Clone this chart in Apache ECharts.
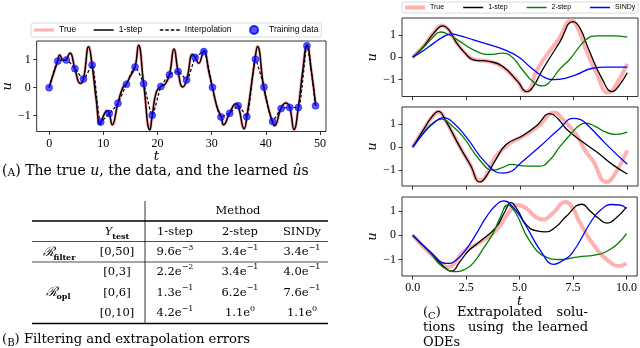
<!DOCTYPE html>
<html>
<head>
<meta charset="utf-8">
<script src="https://cdn.jsdelivr.net/npm/echarts@6/dist/echarts.min.js"></script>
<style>
  html, body { margin: 0; padding: 0; background: #fff; }
  #chart { width: 640px; height: 348px; }
</style>
</head>
<body>
<div id="chart"></div>
<script>
// (A) training samples
const trainT = [0, 1.59, 3.17, 4.76, 6.34, 7.93, 9.52, 11.1, 12.69, 14.27, 15.86, 17.44, 19.03, 20.62, 22.2, 23.79,
  25.37, 26.96, 28.55, 30.14, 31.72, 33.31, 34.89, 36.48, 38.07, 39.65, 41.24, 42.82, 44.41, 46.0, 47.58, 49.17];
const trainU = [0, 0.95, 0.99, 0.68, 0.31, 0.81, -1.23, -0.93, -0.56, 0.12, 0.74, 0.14, -0.99, 0.04, 0.46, 0.58,
  0.27, 1.08, 1.29, 0.01, -1.05, -0.92, -0.65, -1.04, 1.02, 0.02, -1.21, -0.75, -0.71, -0.71, 1.5, -0.65];
// (A) true u (1-step lies on top of it)
const trueT = [0, 0.8, 1.59, 1.95, 2.65, 3.17, 3.85, 4.76, 5.75, 6.34, 7.3, 7.93, 8.7, 9.4, 10.05, 10.7, 11.1, 11.65,
  12.69, 13.6, 14.27, 15.0, 15.86, 16.5, 17.44, 18.6, 19.03, 19.8, 20.62, 21.4, 22.2, 23.05, 23.8, 24.65, 25.37,
  26.5, 26.97, 27.6, 28.55, 29.5, 30.14, 31.0, 31.75, 32.2, 33.3, 34.5, 34.9, 36.0, 36.5, 38.0, 38.45, 39.6, 40.5,
  41.2, 41.6, 42.8, 43.7, 44.4, 45.2, 46.0, 46.8, 47.6, 48.4, 49.2];
const trueU = [0, 0.5, 0.95, 1.17, 0.97, 1.02, 1.24, 0.68, 0.15, 0.31, 1.46, 0.81, -0.45, -1.32, -1.0, -0.82, -0.93, -1.33,
  -0.56, 0.0, 0.14, 0.42, 0.74, 1.52, 0.14, -1.51, -0.99, -0.15, 0.04, 0.12, 0.46, 1.38, 0.58, 0.02, 0.27,
  1.2, 1.08, 0.87, 1.32, 0.55, 0.01, -0.7, -1.04, -1.33, -0.92, -0.58, -0.65, -1.47, -1.03, 1.02, 1.47, 0.02, -0.75,
  -1.21, -1.36, -0.74, -0.55, -0.71, -1.5, -0.7, 0.6, 1.53, 0.6, -0.64];
const oneStepU = trueU;
const ticksA = [0, 10, 20, 30, 40, 50];

// (C) extrapolation, three initial conditions
const c1True = [[0,0],[0.51,0.5],[0.98,1.1],[1.36,1.42],[1.7,1.2],[2.05,0.65],[2.44,0.18],[2.83,-0.1],[3.6,-0.2],[4.2,-0.45],[4.9,-1.1],[5.25,-1.55],[5.5,-1.4],[5.76,-0.63],[6.84,0.87],[7.38,1.65],[7.7,1.3],[8.07,0.35],[8.6,-0.8],[9.1,-1.6],[9.45,-1.3],[10,-0.3]];
const c1One = [[0,0],[0.51,0.48],[0.98,1.08],[1.4,1.41],[1.7,1.2],[2.05,0.63],[2.44,0.18],[2.83,-0.12],[3.6,-0.2],[4.2,-0.42],[4.9,-1.1],[5.32,-1.55],[5.6,-1.35],[6.06,-0.55],[6.84,0.65],[7.48,1.6],[7.8,1.3],[8.2,0.35],[8.84,-1.0],[9.3,-1.55],[9.6,-1.3],[10,-0.7]];
const c1Two = [[0,0],[0.51,0.45],[0.98,0.93],[1.3,1.13],[1.6,1.05],[2.05,0.8],[2.83,0.33],[3.6,0.12],[4.2,0.18],[4.52,0.1],[5.14,-0.6],[5.6,-1.1],[6.07,-1.29],[6.4,-1.1],[6.84,-0.55],[7.3,-0.12],[8.07,0.78],[8.6,0.96],[9.3,0.96],[10,0.9]];
const c1Sindy = [[0,0],[0.51,0.3],[0.98,0.63],[1.4,0.9],[1.82,1.05],[2.05,1.0],[2.83,0.78],[3.6,0.55],[4.2,0.36],[4.9,0.03],[5.45,-0.42],[6.07,-0.87],[6.6,-1.01],[7.1,-0.95],[7.6,-0.8],[8.38,-0.5],[9.0,-0.45],[10,-0.45]];

const c2True = [[0,0],[0.5,0.75],[0.9,1.3],[1.2,1.52],[1.5,1.2],[2.2,0],[2.7,-0.8],[3.1,-1.45],[3.35,-1.35],[3.8,-0.5],[4.37,0.05],[4.68,0.25],[5.3,0.55],[5.9,0.95],[6.6,1.5],[7.0,1.2],[7.6,0.57],[8.07,-0.2],[8.38,-0.57],[9.05,-1.52],[9.4,-1.2],[10,-0.15]];
const c2One = [[0,0],[0.5,0.75],[0.9,1.32],[1.2,1.55],[1.5,1.2],[2.2,0],[2.7,-0.8],[3.13,-1.52],[3.4,-1.3],[3.9,-0.5],[4.37,0.12],[5.14,0.5],[5.8,0.95],[6.4,1.45],[6.8,1.2],[7.2,0.75],[8.07,0.12],[8.7,-0.3],[9.3,-0.75],[10,-1.17]];
const c2Two = [[0,0],[0.5,0.62],[0.98,1.08],[1.36,1.21],[1.8,0.95],[2.36,0.43],[3.13,-0.57],[3.75,-1.0],[4.2,-0.88],[4.6,-0.75],[5.14,-0.82],[5.9,-0.83],[6.4,-0.55],[6.84,0.0],[7.4,0.6],[7.76,0.94],[8.07,1.04],[8.5,0.9],[9.0,0.65],[9.46,0.55],[10,0.65]];
const c2Sindy = [[0,0],[0.5,0.6],[0.98,1.05],[1.44,1.28],[1.9,1.05],[2.5,0.43],[3.44,-0.72],[4.2,-1.13],[4.6,-1.05],[5.0,-0.72],[5.9,0.0],[6.84,0.8],[7.5,1.25],[7.8,1.2],[8.1,1.0],[9.0,0.14],[10,-0.75]];

const c3True = [[0,0],[0.82,-0.75],[1.4,-1.2],[1.65,-1.32],[2.0,-1.1],[2.36,-0.68],[3.13,-0.3],[3.9,0.2],[4.5,0.95],[4.9,1.25],[5.3,1.12],[5.76,0.75],[6.1,0.65],[6.53,0.89],[7.15,1.37],[7.5,1.1],[7.76,0.62],[8.53,-0.48],[9.3,-1.16],[9.65,-1.27],[10,-1.16]];
const c3One = [[0,0],[0.82,-0.72],[1.4,-1.25],[1.82,-1.48],[2.2,-1.1],[2.6,-0.65],[3.13,-0.27],[3.9,0.34],[4.3,0.95],[4.6,1.35],[4.9,1.05],[5.3,0.45],[5.8,0.18],[6.22,0.14],[6.7,0.35],[7.15,0.75],[7.92,1.28],[8.3,1.0],[8.69,0.7],[9.1,0.5],[9.5,0.7],[10,1.16]];
const c3Two = [[0,0],[0.82,-0.72],[1.4,-1.3],[2.05,-1.5],[2.5,-1.38],[2.82,-1.16],[3.3,-0.55],[3.75,0.07],[4.1,0.75],[4.45,1.25],[4.8,0.95],[5.45,-0.2],[6.22,-0.89],[6.84,-1.0],[7.76,-0.89],[8.5,-0.82],[9.0,-0.7],[9.6,-0.34],[10,0.07]];
const c3Sindy = [[0,0],[0.82,-0.68],[1.59,-1.16],[2.0,-1.05],[2.52,-0.55],[3.0,0.1],[3.44,0.75],[3.9,1.25],[4.25,1.42],[4.6,1.25],[5.14,0.62],[6.06,-0.75],[6.6,-1.2],[7.0,-1.05],[7.45,-0.75],[8.38,0.62],[8.8,1.05],[9.3,1.27],[9.7,1.25],[10,1.1]];
const ticksC = [0, 2.5, 5, 7.5, 10];
const ticksU = [-1, 0, 1];

// (B) table
const tableMethods = ['1-step', '2-step', 'SINDy'];
const tableRanges = ['[0,50]', '[0,3]', '[0,6]', '[0,10]'];
const tableMantissa = [['9.6', '3.4', '3.4'], ['2.2', '3.4', '4.0'], ['1.3', '6.2', '7.6'], ['4.2', '1.1', '1.1']];
const tableExponent = [['−3', '−1', '−1'], ['−2', '−1', '−1'], ['−1', '−1', '−1'], ['−1', '0', '0']];

const serif = 'DejaVu Serif';
const tickFont = 'Liberation Serif';
const pink = '#ffb0b0';

const chart = echarts.init(document.getElementById('chart'));

function minus(v) {
  return v < 0 ? '−' + Math.abs(v) : String(v);
}

function xAxisOf(grid, min, max, ticks, showLabel, fmt, nameOpt) {
  return Object.assign({
    type: 'value', gridIndex: grid, min: min, max: max,
    splitLine: { show: false },
    axisLine: { show: false, onZero: false },
    axisTick: { show: true, length: 3.5, lineStyle: { color: '#000', width: 0.8 }, customValues: ticks },
    axisLabel: { show: showLabel, customValues: ticks, formatter: fmt, margin: 6,
      fontFamily: tickFont, fontSize: 12, color: '#000' }
  }, nameOpt || {});
}

function yAxisOf(grid, min, max, gap) {
  return {
    type: 'value', gridIndex: grid, min: min, max: max,
    name: 'u', nameLocation: 'middle', nameRotate: 90, nameGap: gap,
    nameTextStyle: { fontFamily: serif, fontStyle: 'italic', fontSize: 13, color: '#000' },
    splitLine: { show: false },
    axisLine: { show: false, onZero: false },
    axisTick: { show: true, length: 3.5, lineStyle: { color: '#000', width: 0.8 }, customValues: ticksU },
    axisLabel: { customValues: ticksU, formatter: minus, margin: 6,
      fontFamily: tickFont, fontSize: 12, color: '#000' }
  };
}

function curve(name, data, idx, color, width, extra) {
  return Object.assign({
    name: name, type: 'line', xAxisIndex: idx, yAxisIndex: idx,
    data: data, symbol: 'none', smooth: 0.5,
    lineStyle: { color: color, width: width }, itemStyle: { color: color },
    animation: false
  }, extra || {});
}

const pairsA = trueT.map((t, i) => [t, trueU[i]]);
const oneStepA = trueT.map((t, i) => [t, oneStepU[i]]);
const trainA = trainT.map((t, i) => [t, trainU[i]]);

const cPanels = [
  [c1True, c1One, c1Two, c1Sindy],
  [c2True, c2One, c2Two, c2Sindy],
  [c3True, c3One, c3Two, c3Sindy]
];

const series = [
  curve('True', pairsA, 0, pink, 3),
  curve('1-step', oneStepA, 0, '#000', 1.5),
  curve('Interpolation', trainA, 0, '#000', 1.2, { smooth: 0.2, lineStyle: { color: '#000', width: 1.2, type: [3, 2] } }),
  {
    name: 'Training data', type: 'scatter', xAxisIndex: 0, yAxisIndex: 0, data: trainA,
    symbolSize: 7, itemStyle: { color: 'rgba(10,10,255,0.85)', borderColor: '#0000ff', borderWidth: 0.6 },
    animation: false, z: 5
  }
];
cPanels.forEach((p, k) => {
  series.push(curve('True', p[0], k + 1, pink, 4));
  series.push(curve('1-step', p[1], k + 1, '#000', 1.3));
  series.push(curve('2-step', p[2], k + 1, '#008000', 1.3));
  series.push(curve('SINDy', p[3], k + 1, '#0000ff', 1.3));
});

// table + captions as text
const tRich = {
  m: { fontFamily: serif, fontSize: 11.5, lineHeight: 17, fill: '#000' },
  s: { fontFamily: serif, fontSize: 8, lineHeight: 9, verticalAlign: 'top', fill: '#000' },
  i: { fontFamily: serif, fontSize: 11.5, fontStyle: 'italic', lineHeight: 17, fill: '#000' },
  r: { fontFamily: serif, fontSize: 13, fontStyle: 'italic', lineHeight: 17, fill: '#000' },
  b: { fontFamily: serif, fontSize: 8, fontWeight: 'bold', lineHeight: 9, verticalAlign: 'bottom', fill: '#000' }
};
function txt(x, y, text, rich, align) {
  return {
    type: 'text', x: x, y: y, silent: true,
    style: { text: text, rich: rich, align: align || 'center', textAlign: align || 'center',
      verticalAlign: 'middle', textVerticalAlign: 'middle', fill: '#000' }
  };
}
function rule(x1, y1, x2, y2, w) {
  return { type: 'line', silent: true, shape: { x1: x1, y1: y1, x2: x2, y2: y2 }, style: { stroke: '#000', lineWidth: w } };
}

const colX = [175, 240, 302];
const rowY = [252.5, 271.7, 292.7, 313.3];
const graphics = [
  rule(32, 221, 328, 221, 1.3),
  rule(32, 241.5, 328, 241.5, 0.7),
  rule(32, 262, 328, 262, 0.7),
  rule(32, 323.5, 328, 323.5, 1.3),
  rule(145, 201, 145, 323.5, 0.8),
  txt(238, 211.5, '{m|Method}', tRich),
  txt(117, 232.5, '{i|Y}{b|test}', tRich),
  txt(59, 253, '{r|ℛ}{b|filter}', tRich),
  txt(58, 292.7, '{r|ℛ}{b|opl}', tRich)
];
tableMethods.forEach((m, j) => graphics.push(txt(colX[j], 232.5, '{m|' + m + '}', tRich)));
tableRanges.forEach((r, i) => {
  graphics.push(txt(117, rowY[i], '{m|' + r + '}', tRich));
  tableMantissa[i].forEach((v, j) => {
    graphics.push(txt(colX[j], rowY[i], '{m|' + v + 'e}{s|' + tableExponent[i][j] + '}', tRich));
  });
});

function capRich(size) {
  return {
    n: { fontFamily: serif, fontSize: size, lineHeight: 16, fill: '#000' },
    c: { fontFamily: serif, fontSize: size * 0.77, lineHeight: 13.5, verticalAlign: 'bottom', fill: '#000' },
    i: { fontFamily: serif, fontSize: size, fontStyle: 'italic', lineHeight: 16, fill: '#000' }
  };
}
const cRich = capRich(13);
graphics.push(txt(2, 171, '{n|(}{c|A}{n|) The true }{i|u}{n|, the data, and the learned }{i|û}{n|s}', capRich(14), 'left'));
graphics.push(txt(2, 340, '{n|(}{c|B}{n|) Filtering and extrapolation errors}', capRich(13.2), 'left'));
graphics.push(txt(423, 313, '{n|(}{c|C}{n|)}', cRich, 'left'));
graphics.push(txt(457, 313, '{n|Extrapolated}', cRich, 'left'));
graphics.push(txt(588, 313, '{n|solu-}', cRich, 'right'));
graphics.push(txt(423, 328, '{n|tions}', cRich, 'left'));
graphics.push(txt(468, 328, '{n|using}', cRich, 'left'));
graphics.push(txt(512, 328, '{n|the}', cRich, 'left'));
graphics.push(txt(588, 328, '{n|learned}', cRich, 'right'));
graphics.push(txt(423, 343, '{n|ODEs}', cRich, 'left'));

// legend handles drawn as plain paths so no marker sits on the line
const iconThick3 = 'path://M0,0h20v3h-20z';
const iconThick4 = 'path://M0,0h20v4h-20z';
const iconLine = 'path://M0,0h20v1.5h-20z';
const iconDash = 'path://M0,0h3.5v1.3h-3.5zM5.5,0h3.5v1.3h-3.5zM11,0h3.5v1.3h-3.5zM16.5,0h3.5v1.3h-3.5z';

const legendBase = {
  orient: 'horizontal', itemWidth: 20, borderColor: '#d0d0d0', borderWidth: 0.8, borderRadius: 2,
  backgroundColor: '#fff', width: 400
};

const option = {
  backgroundColor: '#fff',
  animation: false,
  legend: [
    Object.assign({}, legendBase, {
      left: 31, top: 23, padding: [2, 3, 2, 3], itemHeight: 8, itemGap: 17.5,
      textStyle: { fontFamily: 'Liberation Sans', fontSize: 8.5, color: '#000' },
      data: [
        { name: 'True', icon: iconThick3 },
        { name: '1-step', icon: iconLine },
        { name: 'Interpolation', icon: iconDash },
        { name: 'Training data', icon: 'circle' }
      ]
    }),
    Object.assign({}, legendBase, {
      left: 402, top: 2, padding: [2, 3, 2, 3], itemHeight: 8, itemGap: 19,
      textStyle: { fontFamily: 'Liberation Sans', fontSize: 7, color: '#000' },
      data: [
        { name: 'True', icon: iconThick4 },
        { name: '1-step', icon: iconLine },
        { name: '2-step', icon: iconLine },
        { name: 'SINDy', icon: iconLine }
      ]
    })
  ],
  grid: [
    { left: 30, top: 41, width: 296, height: 90.5, show: true, borderColor: '#000', borderWidth: 0.8, backgroundColor: 'transparent' },
    { left: 402, top: 18, width: 236, height: 78.5, show: true, borderColor: '#000', borderWidth: 0.8, backgroundColor: 'transparent' },
    { left: 402, top: 107, width: 236, height: 79, show: true, borderColor: '#000', borderWidth: 0.8, backgroundColor: 'transparent' },
    { left: 402, top: 197, width: 236, height: 79, show: true, borderColor: '#000', borderWidth: 0.8, backgroundColor: 'transparent' }
  ],
  xAxis: [
    xAxisOf(0, -2.3, 51.1, ticksA, true, v => String(v), {
      name: 't', nameLocation: 'middle', nameGap: 15,
      nameTextStyle: { fontFamily: serif, fontStyle: 'italic', fontSize: 13, color: '#000', padding: [0, 50, 0, 0] }
    }),
    xAxisOf(1, -0.5, 10.5, ticksC, false, null),
    xAxisOf(2, -0.5, 10.5, ticksC, false, null),
    xAxisOf(3, -0.5, 10.5, ticksC, true, v => v.toFixed(1), {
      name: 't', nameLocation: 'middle', nameGap: 18,
      nameTextStyle: { fontFamily: serif, fontStyle: 'italic', fontSize: 13, color: '#000' }
    })
  ],
  yAxis: [
    yAxisOf(0, -1.57, 1.67, 21),
    yAxisOf(1, -1.77, 1.76, 21),
    yAxisOf(2, -1.69, 1.74, 21),
    yAxisOf(3, -1.68, 1.58, 21)
  ],
  series: series,
  graphic: graphics
};

chart.setOption(option);
</script>
</body>
</html>
